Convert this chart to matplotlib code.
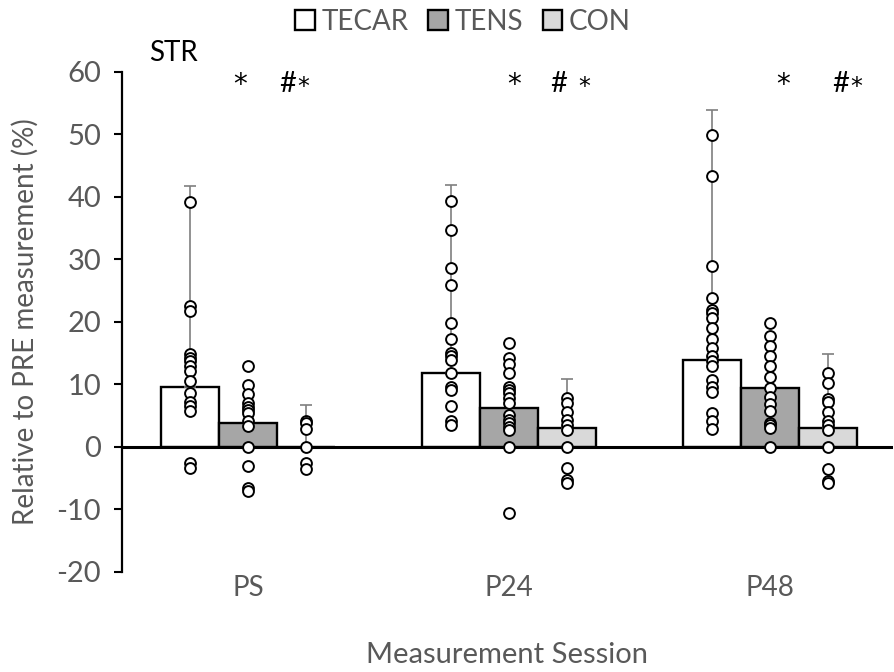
import numpy as np
import matplotlib
matplotlib.use("Agg")
import matplotlib.pyplot as plt
from matplotlib.patches import Patch

plt.rcParams["font.family"] = ["Lato", "DejaVu Sans"]
plt.rcParams["axes.unicode_minus"] = False

sessions = ["PS", "P24", "P48"]
groups = ["TECAR", "TENS", "CON"]
colors = ["#FFFFFF", "#A6A6A6", "#D9D9D9"]

# bar means (%)
tecar_mean = [9.6, 11.9, 13.9]
tens_mean = [3.8, 6.2, 9.5]
con_mean = [0.0, 3.0, 3.0]

# upper error bars (only TECAR and CON are visible)
tecar_err = [32.2, 30.0, 40.0]
con_err = [6.7, 7.9, 11.9]

# individual subjects
tecar_pts = [
    [39.2, 22.5, 21.8, 14.9, 14.3, 13.7, 13.0, 12.1, 10.5, 8.6, 7.2, 6.5, 5.8, -2.6, -3.4],
    [39.3, 34.7, 28.6, 25.9, 19.9, 17.3, 15.0, 14.5, 13.9, 11.9, 9.6, 9.1, 6.6, 4.1, 3.5],
    [49.9, 43.4, 29.0, 23.9, 21.9, 21.4, 20.6, 19.0, 17.2, 15.9, 14.6, 13.8, 13.0, 10.7, 9.6, 8.8, 5.4, 4.1, 2.8],
]
tens_pts = [
    [12.9, 9.9, 8.4, 7.0, 6.4, 5.9, 5.4, 4.1, 3.3, 0.0, -3.1, -6.6, -7.1],
    [16.7, 14.2, 13.3, 11.8, 9.6, 9.1, 8.6, 7.9, 7.0, 5.1, 4.3, 3.8, 3.2, 2.7, 0.0, -10.6],
    [19.9, 17.8, 16.2, 14.6, 12.9, 11.2, 9.4, 8.0, 6.9, 5.8, 3.9, 3.5, 3.0, 0.0],
]
con_pts = [
    [4.2, 3.8, 2.8, 0.0, -2.6, -3.6],
    [7.8, 7.1, 5.6, 4.3, 3.5, 2.7, 0.0, -3.4, -5.3, -5.8],
    [11.9, 10.3, 7.6, 7.2, 5.6, 4.2, 3.5, 2.7, 0.0, -3.6, -5.4, -5.8],
]

means = [tecar_mean, tens_mean, con_mean]
points = [tecar_pts, tens_pts, con_pts]
errs = {0: tecar_err, 2: con_err}

GREY = "#595959"
fig = plt.figure(figsize=(8.94, 6.72), dpi=100)
ax = fig.add_axes([0.1365, 0.149, 0.862, 0.744])

x = np.arange(len(sessions))
w = 0.222
for g in range(3):
    xs = x + (g - 1) * w
    ax.bar(xs, means[g], width=w, color=colors[g], edgecolor="black",
           linewidth=1.7, zorder=2)
    if g in errs:
        ax.errorbar(xs, means[g], yerr=[np.zeros(3), errs[g]], fmt="none",
                    ecolor="#7F7F7F", elinewidth=1.2, capsize=4, capthick=1.2,
                    zorder=3)
    for i in range(3):
        ys = points[g][i]
        ax.plot([xs[i]] * len(ys), ys, "o", ms=7.8, mfc="white", mec="black",
                mew=1.4, zorder=5)

ax.axhline(0, color="black", lw=2.2, zorder=4)

ax.set_xlim(-0.483, 2.47)
ax.set_ylim(-20, 60)
ax.set_yticks(range(-20, 61, 10))
ax.set_xticks(x)
ax.set_xticklabels(sessions)
for s in ["top", "right", "bottom"]:
    ax.spines[s].set_visible(False)
ax.spines["left"].set_linewidth(1.6)
ax.tick_params(axis="y", direction="out", length=6, width=1.5, pad=9,
               labelsize=21, labelcolor=GREY)
ax.tick_params(axis="x", length=0, pad=2, labelsize=20, labelcolor=GREY)
ax.set_xlabel("Measurement Session", fontsize=21, color=GREY, labelpad=30)
ax.set_ylabel("Relative to PRE measurement (%)", fontsize=20, color=GREY)
ax.yaxis.set_label_coords(-0.108, 0.5)

ax.text(-0.285, 61.0, "STR", fontsize=20, ha="center", va="bottom", clip_on=False)
star_x = [-0.03, 1.02, 2.05]
hash_x = [0.15, 1.19, 2.27]
hstar_x = [0.21, 1.29, 2.33]
for i in range(3):
    ax.text(star_x[i], 57.9, "*", fontsize=20, ha="center", va="center",
            family="DejaVu Sans")
    ax.text(hash_x[i], 58.0, "#", fontsize=21, ha="center", va="center")
    ax.text(hstar_x[i], 57.6, "*", fontsize=17, ha="center", va="center",
            family="DejaVu Sans")

handles = [Patch(facecolor=c, edgecolor="black", linewidth=1.7) for c in colors]
leg = fig.legend(handles, groups, loc="center", bbox_to_anchor=(0.518, 0.968),
                 ncol=3, frameon=False, fontsize=20, handlelength=0.7,
                 handleheight=0.7, handletextpad=0.25, columnspacing=0.7)
for t in leg.get_texts():
    t.set_color(GREY)

fig.savefig("out.png", dpi=100)
